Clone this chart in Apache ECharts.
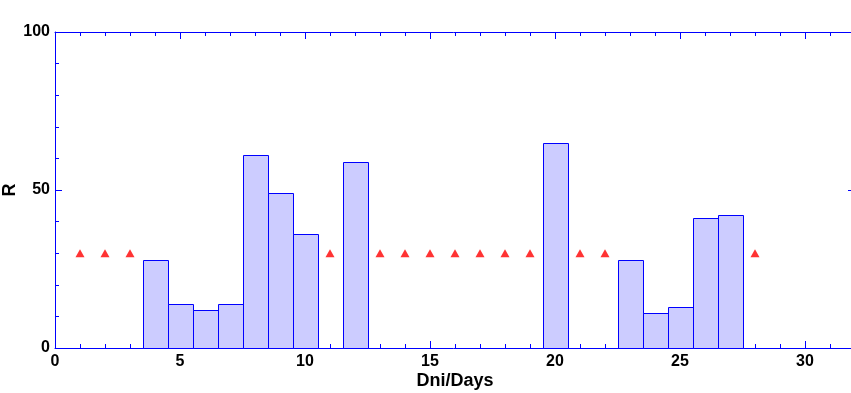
<!DOCTYPE html>
<html><head><meta charset="utf-8">
<script src="https://cdn.jsdelivr.net/npm/echarts@6/dist/echarts.min.js"></script>
<style>html,body{margin:0;padding:0;background:#fff}#c{width:851px;height:393px}</style>
</head><body><div id="c"></div>
<script>
const barDays = [4, 5, 6, 7, 8, 9, 10, 12, 20, 23, 24, 25, 26, 27];
const barValues = [28, 14, 12, 14, 61, 49, 36, 59, 65, 28, 11, 13, 41, 42];
const markerDays = [1, 2, 3, 11, 13, 14, 15, 16, 17, 18, 19, 21, 22, 28];
const markerValues = [30, 30, 30, 30, 30, 30, 30, 30, 30, 30, 30, 30, 30, 30];
const xTicks = [0, 5, 10, 15, 20, 25, 30];
const yTicks = [0, 50, 100];

const AX = '#0000ff';
const font = {fontFamily: 'Liberation Sans, Arial, sans-serif', fontWeight: 'bold', fontSize: 16, color: '#000'};
const nameFont = Object.assign({}, font, {fontSize: 18});
const chart = echarts.init(document.getElementById('c'));
const barData = barDays.map((d, i) => [d, barValues[i]]);
const markerData = markerDays.map((d, i) => [d, markerValues[i]]);

function axisCommon(show) {
  return {
    axisLine: {show: true, onZero: false, lineStyle: {color: AX, width: 1}},
    axisTick: {show: true, inside: true, length: 7, lineStyle: {color: AX, width: 1}},
    minorTick: {show: true, splitNumber: 5, length: 4, lineStyle: {color: AX, width: 1}},
    splitLine: {show: false},
    axisLabel: show ? Object.assign({}, font) : {show: false}
  };
}

chart.setOption({
  animation: false,
  grid: {left: 55, top: 32, width: 800, height: 316, containLabel: false, outerBoundsMode: 'none'},
  xAxis: [
    Object.assign({type: 'value', position: 'bottom', min: 0, max: 32, interval: 5,
      name: 'Dni/Days', nameLocation: 'middle', nameGap: 24, nameMoveOverlap: false,
      nameTextStyle: nameFont}, axisCommon(true),
      {axisLabel: Object.assign({}, font, {margin: 6, customValues: xTicks})}),
    Object.assign({type: 'value', position: 'top', min: 0, max: 32, interval: 5}, axisCommon(false))
  ],
  yAxis: [
    Object.assign({type: 'value', position: 'left', min: 0, max: 100, interval: 50,
      name: 'R', nameLocation: 'middle', nameGap: 36, nameRotate: 90, nameMoveOverlap: false,
      nameTextStyle: nameFont}, axisCommon(true),
      {axisLabel: Object.assign({}, font, {margin: 5, customValues: yTicks})}),
    Object.assign({type: 'value', position: 'right', min: 0, max: 100, interval: 50}, axisCommon(false))
  ],
  series: [
    {
      type: 'custom', xAxisIndex: 0, yAxisIndex: 0, data: barData,
      renderItem: function (params, api) {
        const x = api.value(0), y = api.value(1);
        const p0 = api.coord([x - 0.5, y]);
        const p1 = api.coord([x + 0.5, 0]);
        return {type: 'rect',
          shape: {x: Math.round(p0[0]) + 0.5, y: Math.round(p0[1]) + 0.5,
                  width: Math.round(p1[0] - p0[0]), height: Math.round(p1[1] - p0[1])},
          style: {fill: '#ccccff', stroke: AX, lineWidth: 1}};
      },
      z: 2
    },
    {
      type: 'scatter', xAxisIndex: 0, yAxisIndex: 0, data: markerData,
      symbol: 'triangle', symbolSize: [9, 8],
      itemStyle: {color: '#ff0000'}, z: 3
    }
  ]
});
</script></body></html>
